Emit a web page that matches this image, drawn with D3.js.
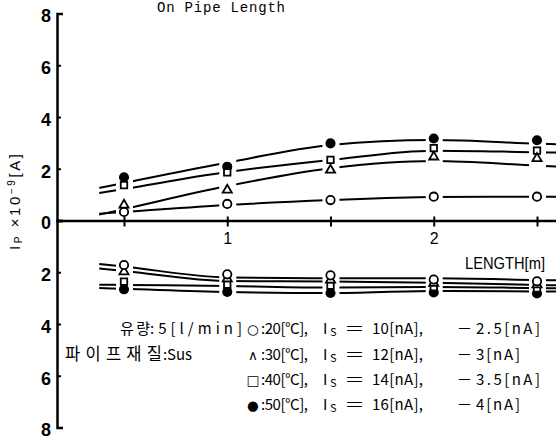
<!DOCTYPE html>
<html>
<head>
<meta charset="utf-8">
<script src="https://cdn.jsdelivr.net/npm/d3@7"></script>
<style>
  html, body { margin: 0; padding: 0; background: #fff; }
  svg { display: block; }
</style>
</head>
<body>
<svg id="chart" width="556" height="442"></svg>
<script>
// Pipe length positions [m]
const lengths = [0.5, 1.0, 1.5, 2.0, 2.5];

// Measured current Ip (x10^-9 A), upper half: forward current
const upper20 = [0.33, 0.64, 0.79, 0.92, 0.92];
const upper30 = [0.60, 1.18, 1.95, 2.46, 2.40];
const upper40 = [1.37, 1.86, 2.34, 2.80, 2.70];
const upper50 = [1.67, 2.08, 2.98, 3.17, 3.10];

// Fitted curves through the upper measurements
const upperFit20 = [0.33, 0.60, 0.79, 0.91, 0.92];
const upperFit30 = [0.44, 1.33, 2.02, 2.30, 2.12];
const upperFit40 = [1.22, 1.87, 2.34, 2.70, 2.64];
const upperFit50 = [1.45, 2.24, 2.92, 3.11, 2.97];

// Lower half: reverse current magnitude
const lower20 = [1.72, 2.08, 2.12, 2.28, 2.35];
const lower30 = [1.98, 2.25, 2.30, 2.42, 2.48];
const lower40 = [2.36, 2.48, 2.52, 2.58, 2.62];
const lower50 = [2.66, 2.76, 2.80, 2.78, 2.82];

const lowerFit20 = [1.78, 2.20, 2.23, 2.23, 2.30];
const lowerFit30 = [1.95, 2.34, 2.36, 2.41, 2.49];
const lowerFit40 = [2.49, 2.53, 2.59, 2.57, 2.61];
const lowerFit50 = [2.64, 2.76, 2.80, 2.72, 2.74];

// Axis ticks
const upperTicks = [0, 2, 4, 6, 8];
const lowerTicks = [2, 4, 6, 8];

// Legend contents
const legendGlyphs = ["○", "∧", "□", "●"];
const legendTemps = [20, 30, 40, 50];
const legendSource = [10, 12, 14, 16];
const legendReverse = ["2.5", "3", "3.5", "4"];
const noteLabels = ["유량", "파이프재질"];
const noteValues = [":5[l/min]", ":Sus"];

// Marker type per temperature
const markerTypes = ["circle", "triangle", "square", "dot"];

const svg = d3.select("#chart");

const x = d3.scaleLinear().domain([0.5, 2.5]).range([124, 537]);
const yUp = d3.scaleLinear().domain([0, 8]).range([220.5, 13.5]);
const yDown = d3.scaleLinear().domain([0, 8]).range([220.5, 427.5]);
const axisX = 57;

// Title fragment at the top
svg.append("text")
  .attr("x", 157).attr("y", 12)
  .attr("font-family", "Liberation Mono, monospace")
  .attr("font-size", 14)
  .attr("textLength", 128).attr("lengthAdjust", "spacing")
  .attr("fill", "#000")
  .text("On Pipe Length");

// Gaps in the curves around each marker column
const defs = svg.append("defs");
const mask = defs.append("mask").attr("id", "gaps")
  .attr("maskUnits", "userSpaceOnUse")
  .attr("x", 0).attr("y", 0).attr("width", 556).attr("height", 442);
mask.append("rect").attr("x", 0).attr("y", 0).attr("width", 556).attr("height", 442).attr("fill", "#fff");
mask.selectAll("rect.gap").data(lengths).join("rect")
  .attr("class", "gap")
  .attr("x", d => x(d) - 8).attr("y", 0)
  .attr("width", 17).attr("height", 442)
  .attr("fill", "#000");

function extend(vals) {
  const n = vals.length;
  const sL = (vals[1] - vals[0]) / (lengths[1] - lengths[0]);
  const sR = (vals[n - 1] - vals[n - 2]) / (lengths[n - 1] - lengths[n - 2]);
  const pts = lengths.map((l, i) => [l, vals[i]]);
  return [[lengths[0] - 0.12, vals[0] - 0.12 * sL], ...pts,
          [lengths[n - 1] + 0.13, vals[n - 1] + 0.13 * sR]];
}

const lineUp = d3.line().x(d => x(d[0])).y(d => yUp(d[1])).curve(d3.curveMonotoneX);
const lineDown = d3.line().x(d => x(d[0])).y(d => yDown(d[1])).curve(d3.curveMonotoneX);

const curves = svg.append("g").attr("mask", "url(#gaps)")
  .attr("fill", "none").attr("stroke", "#000").attr("stroke-width", 2);

[upperFit20, upperFit30, upperFit40, upperFit50].forEach(v => {
  curves.append("path").attr("d", lineUp(extend(v)));
});
[lowerFit20, lowerFit30, lowerFit40, lowerFit50].forEach(v => {
  curves.append("path").attr("d", lineDown(extend(v)));
});

// Axes
const xAxisScale = x.copy().domain([x.invert(axisX), x.invert(556)]).range([axisX, 556]);
const gx = svg.append("g")
  .attr("transform", `translate(0,${yUp(0)})`)
  .call(d3.axisBottom(xAxisScale)
    .tickValues(lengths)
    .tickFormat(d => Number.isInteger(d) ? d : "")
    .tickSize(6).tickSizeOuter(0));
gx.select(".domain").attr("stroke-width", 2.5);
gx.selectAll(".tick line").attr("y1", -4).attr("stroke-width", 2);
gx.selectAll(".tick text")
  .attr("y", 23).attr("dy", 0)
  .attr("font-family", "Liberation Sans, Arial, sans-serif")
  .attr("font-size", 16).attr("fill", "#000");

function styleY(g) {
  g.select(".domain").attr("stroke-width", 2.5);
  g.selectAll(".tick line").attr("stroke-width", 2);
  g.selectAll(".tick text")
    .attr("dy", "0.46em")
    .attr("font-family", "Liberation Sans, Arial, sans-serif")
    .attr("font-weight", "bold")
    .attr("font-size", 18).attr("fill", "#000");
}
svg.append("g").attr("transform", `translate(${axisX},0)`)
  .call(d3.axisLeft(yUp).tickValues(upperTicks).tickFormat(d3.format("d"))
    .tickSize(-4).tickSizeOuter(-6).tickPadding(6))
  .call(styleY);
svg.append("g").attr("transform", `translate(${axisX},0)`)
  .call(d3.axisLeft(yDown).tickValues(lowerTicks).tickFormat(d3.format("d"))
    .tickSize(-4).tickSizeOuter(-6).tickPadding(6))
  .call(styleY);

// Axis titles
const yTitle = svg.append("text")
  .attr("transform", "translate(20,202) rotate(-90)")
  .attr("text-anchor", "middle")
  .attr("font-family", "Liberation Sans, Arial, sans-serif")
  .attr("font-size", 15).attr("fill", "#000")
  .attr("textLength", 96).attr("lengthAdjust", "spacing");
yTitle.append("tspan").text("I");
yTitle.append("tspan").attr("font-size", 10).attr("dy", 2).text("P");
yTitle.append("tspan").attr("dy", -2).text(" ×10");
yTitle.append("tspan").attr("font-size", 10).attr("dy", -5).text("−9");
yTitle.append("tspan").attr("dy", 5).text("[A]");

svg.append("text")
  .attr("x", 465).attr("y", 269)
  .attr("font-family", "Liberation Sans, Arial, sans-serif")
  .attr("font-size", 16)
  .attr("textLength", 80).attr("lengthAdjust", "spacingAndGlyphs")
  .attr("fill", "#000")
  .text("LENGTH[m]");

// Markers
const symbolOf = {
  circle: d3.symbol().type(d3.symbolCircle).size(55),
  triangle: d3.symbol().type(d3.symbolTriangle).size(36),
  square: d3.symbol().type(d3.symbolSquare).size(42),
  dot: d3.symbol().type(d3.symbolCircle).size(80)
};
const upperSets = [upper20, upper30, upper40, upper50];
const lowerSets = [lower20, lower30, lower40, lower50];
const drawOrder = [3, 2, 1, 0];

function drawMarkers(sets, scale) {
  drawOrder.forEach(k => {
    const type = markerTypes[k];
    svg.append("g").selectAll("path")
      .data(sets[k].map((v, i) => [lengths[i], v]))
      .join("path")
      .attr("transform", d => `translate(${x(d[0])},${scale(d[1])})`)
      .attr("d", symbolOf[type]())
      .attr("fill", type === "dot" ? "#000" : "#fff")
      .attr("stroke", "#000")
      .attr("stroke-width", type === "dot" ? 0 : 1.8);
  });
}
drawMarkers(upperSets, yUp);
drawMarkers(lowerSets, yDown);

// Legend
const font = "Noto Sans CJK KR, sans-serif";
const rowY = [333.5, 360, 385, 409.5];
const legend = svg.append("g").attr("fill", "#000").attr("font-family", font).attr("font-size", 15);

function piece(xPos, y, str, width, adjust) {
  const t = legend.append("text").attr("x", xPos).attr("y", y).text(str);
  if (width) t.attr("textLength", width).attr("lengthAdjust", adjust || "spacing");
  return t;
}

// flow rate and pipe material notes
piece(120, rowY[0], noteLabels[0], 30);
piece(150, rowY[0], noteValues[0], 92);
piece(65, rowY[1], noteLabels[1], 97).attr("font-size", 16.5);
piece(163, rowY[1], noteValues[1], 29);

legendTemps.forEach((t, i) => {
  const y = rowY[i];
  legend.append("text").attr("x", 253).attr("y", y)
    .attr("text-anchor", "middle")
    .attr("font-family", "DejaVu Sans, sans-serif").attr("font-size", 13.5)
    .text(legendGlyphs[i]);
  piece(261, y, `:${t}[°C],`, 47);
  // source current Is
  const s = legend.append("text").attr("x", 323).attr("y", y);
  s.append("tspan").text("I");
  s.append("tspan").attr("x", 330).attr("font-size", 11).attr("dy", 2).text("S");
  piece(346, y, "=", 17, "spacingAndGlyphs");
  piece(372, y, `${legendSource[i]}[nA],`, 51);
  // reverse current
  piece(458, y, "−", 13, "spacingAndGlyphs");
  const rev = legendReverse[i];
  piece(476, y, `${rev}[nA]`, rev.length > 1 ? 64 : 44);
});
</script>
</body>
</html>
